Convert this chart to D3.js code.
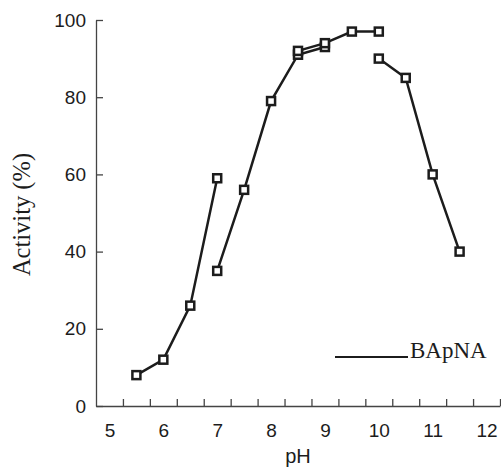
<!DOCTYPE html>
<html>
<head>
<meta charset="utf-8">
<script src="https://cdn.jsdelivr.net/npm/d3@7"></script>
<style>
  body { margin: 0; background: #fff; }
  svg { display: block; }
</style>
</head>
<body>
<div id="chart"></div>
<script>
// pH profile, four buffer segments
const ph1 = [5.5, 6, 6.5, 7];
const act1 = [8, 12, 26, 59];
const ph2 = [7, 7.5, 8, 8.5, 9];
const act2 = [35, 56, 79, 91, 93];
const ph3 = [8.5, 9, 9.5, 10];
const act3 = [92, 94, 97, 97];
const ph4 = [10, 10.5, 11, 11.5];
const act4 = [90, 85, 60, 40];

const xLabels = [5, 6, 7, 8, 9, 10, 11, 12];
const yTicks = [0, 20, 40, 60, 80, 100];
const legendLabel = "BApNA";

const segments = [
    ph1.map((p, i) => ({ ph: p, act: act1[i] })),
    ph2.map((p, i) => ({ ph: p, act: act2[i] })),
    ph3.map((p, i) => ({ ph: p, act: act3[i] })),
    ph4.map((p, i) => ({ ph: p, act: act4[i] })),
];

const width = 501, height = 469;
const ink = "#1c1c1c";

const svg = d3
    .select("#chart")
    .append("svg")
    .attr("width", width)
    .attr("height", height);

// scales
const x = d3.scaleLinear().domain([4.75, 12.25]).range([96, 500]);
const y = d3.scaleLinear().domain([0, 100]).range([406, 20]);

// x axis: minor ticks at the half steps, labels on integers
const xTickVals = d3.range(1, 16).map((k) => 4.75 + 0.5 * k);
const xAxisTicks = svg.append("g")
    .attr("transform", `translate(0,${y(0)})`)
    .call(d3.axisBottom(x).tickValues(xTickVals).tickSizeInner(-7).tickSizeOuter(0).tickFormat(""));
xAxisTicks.selectAll("path,line").attr("stroke", "#444").attr("stroke-width", 1.3);

const xAxisLabels = svg.append("g")
    .attr("transform", `translate(0,${y(0)})`)
    .call(d3.axisBottom(x).tickValues(xLabels).tickSize(0).tickPadding(17.5).tickFormat(d3.format("d")));
xAxisLabels.select(".domain").remove();
xAxisLabels.selectAll("text")
    .attr("font-family", "'Liberation Sans', Arial, sans-serif")
    .attr("font-size", 19)
    .attr("fill", ink);

// y axis
const yAxis = svg.append("g")
    .attr("transform", `translate(${x(4.75)},0)`)
    .call(d3.axisLeft(y).tickValues(yTicks).tickSizeInner(-7).tickSizeOuter(0).tickPadding(10));
yAxis.selectAll("path,line").attr("stroke", "#444").attr("stroke-width", 1.3);
yAxis.selectAll("text")
    .attr("font-family", "'Liberation Sans', Arial, sans-serif")
    .attr("font-size", 19)
    .attr("fill", ink);

// axis titles
svg.append("text")
    .attr("x", 298)
    .attr("y", 463)
    .attr("text-anchor", "middle")
    .attr("font-family", "'Liberation Sans', Arial, sans-serif")
    .attr("font-size", 20)
    .attr("fill", ink)
    .text("pH");

svg.append("text")
    .attr("transform", "translate(30,214.5) rotate(-90)")
    .attr("text-anchor", "middle")
    .attr("font-family", "'Liberation Serif', 'Times New Roman', serif")
    .attr("font-size", 24.5)
    .attr("fill", ink)
    .text("Activity (%)");

// lines
const line = d3.line().x((d) => x(d.ph)).y((d) => y(d.act));
svg.selectAll(".seg")
    .data(segments)
    .enter()
    .append("path")
    .attr("class", "seg")
    .attr("d", line)
    .attr("fill", "none")
    .attr("stroke", ink)
    .attr("stroke-width", 2.5);

// square markers
const pts = segments.flat();
svg.selectAll(".mk")
    .data(pts)
    .enter()
    .append("rect")
    .attr("class", "mk")
    .attr("x", (d) => x(d.ph) - 4)
    .attr("y", (d) => y(d.act) - 4)
    .attr("width", 8)
    .attr("height", 8)
    .attr("fill", "#fff")
    .attr("stroke", ink)
    .attr("stroke-width", 2.5);

// legend
svg.append("line")
    .attr("x1", 335).attr("x2", 408)
    .attr("y1", 357).attr("y2", 357)
    .attr("stroke", ink)
    .attr("stroke-width", 2);
svg.append("text")
    .attr("x", 410)
    .attr("y", 357.5)
    .attr("font-family", "'Liberation Serif', 'Times New Roman', serif")
    .attr("font-size", 23)
    .attr("fill", ink)
    .text(legendLabel);
</script>
</body>
</html>
